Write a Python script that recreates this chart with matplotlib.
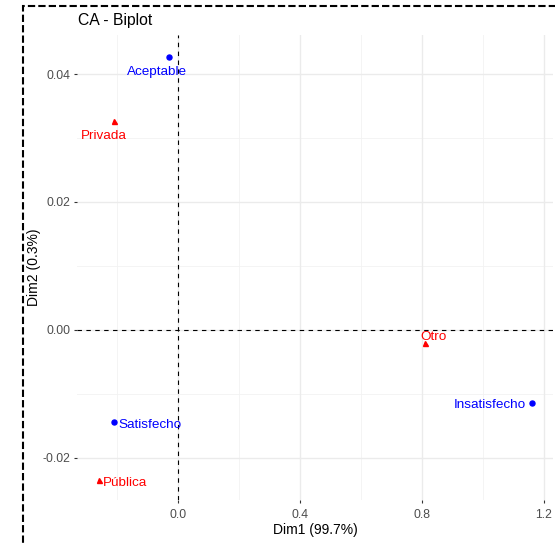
import matplotlib
matplotlib.use("Agg")
import matplotlib.pyplot as plt
from matplotlib.patches import Rectangle

plt.rcParams['font.family'] = ['Liberation Sans', 'DejaVu Sans']

# column points (blue) and row points (red)
col_names = ["Aceptable", "Insatisfecho", "Satisfecho"]
col_x = [-0.03, 1.161, -0.21]
col_y = [0.0427, -0.0114, -0.0144]

row_names = ["Privada", "Otro", "Pública"]
row_x = [-0.21, 0.81, -0.259]
row_y = [0.0327, -0.002, -0.0234]

x_ticks = [0.0, 0.4, 0.8, 1.2]
x_minor = [-0.2, 0.2, 0.6, 1.0]
y_ticks = [-0.02, 0.00, 0.02, 0.04]
y_minor = [-0.01, 0.01, 0.03]

# label offsets in points, per label (ggrepel style placement)
col_offsets = [((-8.6, -10.9), 'center'), ((-4, -1.5), 'right'), ((3, -2.0), 'left')]
row_offsets = [((-7.2, -10.9), 'center'), ((6.5, 4.3), 'center'), ((3, -2.5), 'left')]

fig = plt.figure(figsize=(5.55, 5.44), dpi=100)
ax = fig.add_axes([77 / 555, 1 - 500 / 544, 476 / 555, 465 / 544])

ax.set_xlim(-0.331, 1.23)
ax.set_ylim(-0.0266, 0.0461)

for v in x_minor:
    ax.axvline(v, color='#F2F2F2', lw=0.6, zorder=0)
for v in y_minor:
    ax.axhline(v, color='#F2F2F2', lw=0.6, zorder=0)
for v in x_ticks:
    ax.axvline(v, color='#EBEBEB', lw=1.0, zorder=0)
for v in y_ticks:
    ax.axhline(v, color='#EBEBEB', lw=1.0, zorder=0)

ax.axvline(0, color='black', lw=0.8, ls=(0, (4, 4)), zorder=1)
ax.axhline(0, color='black', lw=0.8, ls=(0, (4, 4)), zorder=1)

ax.plot(col_x, col_y, 'o', color='blue', ms=3.6, zorder=3)
ax.plot(row_x, row_y, '^', color='red', ms=3.6, zorder=3)

for name, x, y, (off, ha) in zip(col_names, col_x, col_y, col_offsets):
    ax.annotate(name, (x, y), xytext=off, textcoords='offset points',
                ha=ha, va='center', color='blue', fontsize=9.7)
for name, x, y, (off, ha) in zip(row_names, row_x, row_y, row_offsets):
    ax.annotate(name, (x, y), xytext=off, textcoords='offset points',
                ha=ha, va='center', color='red', fontsize=9.7)

ax.set_xticks(x_ticks)
ax.set_xticklabels([f"{v:.1f}" for v in x_ticks])
ax.set_yticks(y_ticks)
ax.set_yticklabels([f"{v:.2f}" for v in y_ticks])
ax.tick_params(axis='both', length=2.5, width=0.8, color='#333333',
               labelcolor='#4D4D4D', labelsize=8.8, pad=2)
ax.tick_params(axis='x', pad=4)
for s in ax.spines.values():
    s.set_visible(False)

ax.set_xlabel("Dim1 (99.7%)", fontsize=10, labelpad=1.5)
ax.set_ylabel("Dim2 (0.3%)", fontsize=10, labelpad=1)
fig.text(78 / 555, 1 - 20 / 544, "CA - Biplot", fontsize=11.3, ha='left', va='center')

# dashed frame around the figure (right and bottom edges cut off)
fig.patches.append(Rectangle((23 / 555, -0.1), 1.2, 0.1 + 1 - 6 / 544,
                             transform=fig.transFigure, fill=False,
                             ec='black', lw=1.5, ls=(0, (3.5, 1.5))))

fig.savefig("out.png", dpi=100)
